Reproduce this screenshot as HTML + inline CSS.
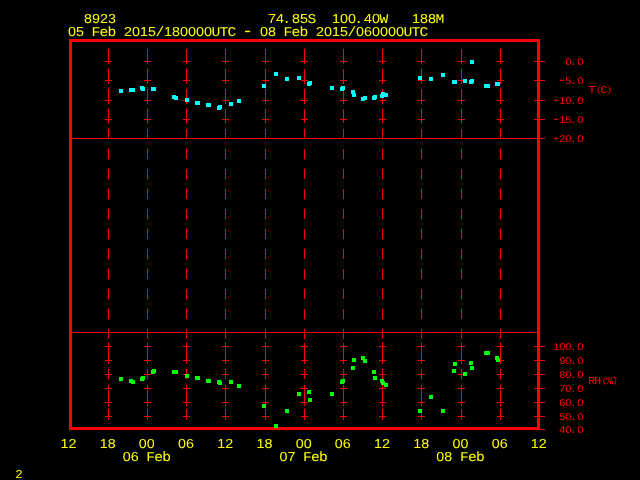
<!DOCTYPE html>
<html><head><meta charset="utf-8"><title>Meteogram 8923</title>
<style>
html,body{margin:0;padding:0;background:#000;}
body{width:640px;height:480px;position:relative;overflow:hidden;font-family:"Liberation Mono",monospace;}
svg{position:absolute;left:0;top:0;}
text{text-rendering:geometricPrecision;white-space:pre;font-family:"Liberation Mono",monospace;}
.d{font-family:"Liberation Sans",sans-serif;}
.b{fill:#ff0;font-size:13.333px;} .b .d{font-size:13px;} .b .h{font-size:17px;}
.m{fill:#ff0;font-size:11.667px;} .m .d{font-size:11.5px;}
.s{fill:#f00;font-size:10.5px;} .s .h{font-size:14px;} .s .p{font-size:8.5px;} .s .d{font-size:10px;}
</style></head><body>
<svg width="640" height="480" viewBox="0 0 640 480" shape-rendering="crispEdges">
<g fill="#f00">
<rect x="69" y="39" width="471" height="3"/>
<rect x="69" y="427" width="471" height="3"/>
<rect x="69" y="39" width="3" height="391"/>
<rect x="537" y="39" width="3" height="391"/>
<rect x="72" y="138" width="465" height="1"/>
<rect x="72" y="332" width="465" height="1"/>
<rect x="108" y="49" width="1" height="15"/>
<rect x="108" y="69" width="1" height="15"/>
<rect x="108" y="89" width="1" height="15"/>
<rect x="108" y="109" width="1" height="14"/>
<rect x="108" y="129" width="1" height="10"/>
<rect x="108" y="149" width="1" height="10"/>
<rect x="108" y="169" width="1" height="10"/>
<rect x="108" y="189" width="1" height="10"/>
<rect x="108" y="209" width="1" height="10"/>
<rect x="108" y="229" width="1" height="10"/>
<rect x="108" y="249" width="1" height="10"/>
<rect x="108" y="269" width="1" height="10"/>
<rect x="108" y="289" width="1" height="10"/>
<rect x="108" y="309" width="1" height="10"/>
<rect x="108" y="329" width="1" height="10"/>
<rect x="108" y="329" width="1" height="10"/>
<rect x="108" y="343" width="1" height="21"/>
<rect x="108" y="369" width="1" height="10"/>
<rect x="108" y="385" width="1" height="21"/>
<rect x="108" y="409" width="1" height="11"/>
<rect x="105" y="61" width="7" height="1"/>
<rect x="105" y="80" width="7" height="1"/>
<rect x="105" y="100" width="7" height="1"/>
<rect x="105" y="119" width="7" height="1"/>
<rect x="105" y="346" width="7" height="1"/>
<rect x="105" y="360" width="7" height="1"/>
<rect x="105" y="374" width="7" height="1"/>
<rect x="105" y="388" width="7" height="1"/>
<rect x="105" y="402" width="7" height="1"/>
<rect x="105" y="416" width="7" height="1"/>
<rect x="147" y="49" width="1" height="15"/>
<rect x="147" y="69" width="1" height="15"/>
<rect x="147" y="89" width="1" height="15"/>
<rect x="147" y="109" width="1" height="14"/>
<rect x="147" y="129" width="1" height="10"/>
<rect x="147" y="149" width="1" height="10"/>
<rect x="147" y="169" width="1" height="10"/>
<rect x="147" y="189" width="1" height="10"/>
<rect x="147" y="209" width="1" height="10"/>
<rect x="147" y="229" width="1" height="10"/>
<rect x="147" y="249" width="1" height="10"/>
<rect x="147" y="269" width="1" height="10"/>
<rect x="147" y="289" width="1" height="10"/>
<rect x="147" y="309" width="1" height="10"/>
<rect x="147" y="329" width="1" height="10"/>
<rect x="147" y="329" width="1" height="10"/>
<rect x="147" y="343" width="1" height="21"/>
<rect x="147" y="369" width="1" height="10"/>
<rect x="147" y="385" width="1" height="21"/>
<rect x="147" y="409" width="1" height="11"/>
<rect x="144" y="61" width="7" height="1"/>
<rect x="144" y="80" width="7" height="1"/>
<rect x="144" y="100" width="7" height="1"/>
<rect x="144" y="119" width="7" height="1"/>
<rect x="144" y="346" width="7" height="1"/>
<rect x="144" y="360" width="7" height="1"/>
<rect x="144" y="374" width="7" height="1"/>
<rect x="144" y="388" width="7" height="1"/>
<rect x="144" y="402" width="7" height="1"/>
<rect x="144" y="416" width="7" height="1"/>
<rect x="186" y="49" width="1" height="15"/>
<rect x="186" y="69" width="1" height="15"/>
<rect x="186" y="89" width="1" height="15"/>
<rect x="186" y="109" width="1" height="14"/>
<rect x="186" y="129" width="1" height="10"/>
<rect x="186" y="149" width="1" height="10"/>
<rect x="186" y="169" width="1" height="10"/>
<rect x="186" y="189" width="1" height="10"/>
<rect x="186" y="209" width="1" height="10"/>
<rect x="186" y="229" width="1" height="10"/>
<rect x="186" y="249" width="1" height="10"/>
<rect x="186" y="269" width="1" height="10"/>
<rect x="186" y="289" width="1" height="10"/>
<rect x="186" y="309" width="1" height="10"/>
<rect x="186" y="329" width="1" height="10"/>
<rect x="186" y="329" width="1" height="10"/>
<rect x="186" y="343" width="1" height="21"/>
<rect x="186" y="369" width="1" height="10"/>
<rect x="186" y="385" width="1" height="21"/>
<rect x="186" y="409" width="1" height="11"/>
<rect x="183" y="61" width="7" height="1"/>
<rect x="183" y="80" width="7" height="1"/>
<rect x="183" y="100" width="7" height="1"/>
<rect x="183" y="119" width="7" height="1"/>
<rect x="183" y="346" width="7" height="1"/>
<rect x="183" y="360" width="7" height="1"/>
<rect x="183" y="374" width="7" height="1"/>
<rect x="183" y="388" width="7" height="1"/>
<rect x="183" y="402" width="7" height="1"/>
<rect x="183" y="416" width="7" height="1"/>
<rect x="225" y="49" width="1" height="15"/>
<rect x="225" y="69" width="1" height="15"/>
<rect x="225" y="89" width="1" height="15"/>
<rect x="225" y="109" width="1" height="14"/>
<rect x="225" y="129" width="1" height="10"/>
<rect x="225" y="149" width="1" height="10"/>
<rect x="225" y="169" width="1" height="10"/>
<rect x="225" y="189" width="1" height="10"/>
<rect x="225" y="209" width="1" height="10"/>
<rect x="225" y="229" width="1" height="10"/>
<rect x="225" y="249" width="1" height="10"/>
<rect x="225" y="269" width="1" height="10"/>
<rect x="225" y="289" width="1" height="10"/>
<rect x="225" y="309" width="1" height="10"/>
<rect x="225" y="329" width="1" height="10"/>
<rect x="225" y="329" width="1" height="10"/>
<rect x="225" y="343" width="1" height="21"/>
<rect x="225" y="369" width="1" height="10"/>
<rect x="225" y="385" width="1" height="21"/>
<rect x="225" y="409" width="1" height="11"/>
<rect x="222" y="61" width="7" height="1"/>
<rect x="222" y="80" width="7" height="1"/>
<rect x="222" y="100" width="7" height="1"/>
<rect x="222" y="119" width="7" height="1"/>
<rect x="222" y="346" width="7" height="1"/>
<rect x="222" y="360" width="7" height="1"/>
<rect x="222" y="374" width="7" height="1"/>
<rect x="222" y="388" width="7" height="1"/>
<rect x="222" y="402" width="7" height="1"/>
<rect x="222" y="416" width="7" height="1"/>
<rect x="265" y="49" width="1" height="15"/>
<rect x="265" y="69" width="1" height="15"/>
<rect x="265" y="89" width="1" height="15"/>
<rect x="265" y="109" width="1" height="14"/>
<rect x="265" y="129" width="1" height="10"/>
<rect x="265" y="149" width="1" height="10"/>
<rect x="265" y="169" width="1" height="10"/>
<rect x="265" y="189" width="1" height="10"/>
<rect x="265" y="209" width="1" height="10"/>
<rect x="265" y="229" width="1" height="10"/>
<rect x="265" y="249" width="1" height="10"/>
<rect x="265" y="269" width="1" height="10"/>
<rect x="265" y="289" width="1" height="10"/>
<rect x="265" y="309" width="1" height="10"/>
<rect x="265" y="329" width="1" height="10"/>
<rect x="265" y="329" width="1" height="10"/>
<rect x="265" y="343" width="1" height="21"/>
<rect x="265" y="369" width="1" height="10"/>
<rect x="265" y="385" width="1" height="21"/>
<rect x="265" y="409" width="1" height="11"/>
<rect x="262" y="61" width="7" height="1"/>
<rect x="262" y="80" width="7" height="1"/>
<rect x="262" y="100" width="7" height="1"/>
<rect x="262" y="119" width="7" height="1"/>
<rect x="262" y="346" width="7" height="1"/>
<rect x="262" y="360" width="7" height="1"/>
<rect x="262" y="374" width="7" height="1"/>
<rect x="262" y="388" width="7" height="1"/>
<rect x="262" y="402" width="7" height="1"/>
<rect x="262" y="416" width="7" height="1"/>
<rect x="304" y="49" width="1" height="15"/>
<rect x="304" y="69" width="1" height="15"/>
<rect x="304" y="89" width="1" height="15"/>
<rect x="304" y="109" width="1" height="14"/>
<rect x="304" y="129" width="1" height="10"/>
<rect x="304" y="149" width="1" height="10"/>
<rect x="304" y="169" width="1" height="10"/>
<rect x="304" y="189" width="1" height="10"/>
<rect x="304" y="209" width="1" height="10"/>
<rect x="304" y="229" width="1" height="10"/>
<rect x="304" y="249" width="1" height="10"/>
<rect x="304" y="269" width="1" height="10"/>
<rect x="304" y="289" width="1" height="10"/>
<rect x="304" y="309" width="1" height="10"/>
<rect x="304" y="329" width="1" height="10"/>
<rect x="304" y="329" width="1" height="10"/>
<rect x="304" y="343" width="1" height="21"/>
<rect x="304" y="369" width="1" height="10"/>
<rect x="304" y="385" width="1" height="21"/>
<rect x="304" y="409" width="1" height="11"/>
<rect x="301" y="61" width="7" height="1"/>
<rect x="301" y="80" width="7" height="1"/>
<rect x="301" y="100" width="7" height="1"/>
<rect x="301" y="119" width="7" height="1"/>
<rect x="301" y="346" width="7" height="1"/>
<rect x="301" y="360" width="7" height="1"/>
<rect x="301" y="374" width="7" height="1"/>
<rect x="301" y="388" width="7" height="1"/>
<rect x="301" y="402" width="7" height="1"/>
<rect x="301" y="416" width="7" height="1"/>
<rect x="343" y="49" width="1" height="15"/>
<rect x="343" y="69" width="1" height="15"/>
<rect x="343" y="89" width="1" height="15"/>
<rect x="343" y="109" width="1" height="14"/>
<rect x="343" y="129" width="1" height="10"/>
<rect x="343" y="149" width="1" height="10"/>
<rect x="343" y="169" width="1" height="10"/>
<rect x="343" y="189" width="1" height="10"/>
<rect x="343" y="209" width="1" height="10"/>
<rect x="343" y="229" width="1" height="10"/>
<rect x="343" y="249" width="1" height="10"/>
<rect x="343" y="269" width="1" height="10"/>
<rect x="343" y="289" width="1" height="10"/>
<rect x="343" y="309" width="1" height="10"/>
<rect x="343" y="329" width="1" height="10"/>
<rect x="343" y="329" width="1" height="10"/>
<rect x="343" y="343" width="1" height="21"/>
<rect x="343" y="369" width="1" height="10"/>
<rect x="343" y="385" width="1" height="21"/>
<rect x="343" y="409" width="1" height="11"/>
<rect x="340" y="61" width="7" height="1"/>
<rect x="340" y="80" width="7" height="1"/>
<rect x="340" y="100" width="7" height="1"/>
<rect x="340" y="119" width="7" height="1"/>
<rect x="340" y="346" width="7" height="1"/>
<rect x="340" y="360" width="7" height="1"/>
<rect x="340" y="374" width="7" height="1"/>
<rect x="340" y="388" width="7" height="1"/>
<rect x="340" y="402" width="7" height="1"/>
<rect x="340" y="416" width="7" height="1"/>
<rect x="382" y="49" width="1" height="15"/>
<rect x="382" y="69" width="1" height="15"/>
<rect x="382" y="89" width="1" height="15"/>
<rect x="382" y="109" width="1" height="14"/>
<rect x="382" y="129" width="1" height="10"/>
<rect x="382" y="149" width="1" height="10"/>
<rect x="382" y="169" width="1" height="10"/>
<rect x="382" y="189" width="1" height="10"/>
<rect x="382" y="209" width="1" height="10"/>
<rect x="382" y="229" width="1" height="10"/>
<rect x="382" y="249" width="1" height="10"/>
<rect x="382" y="269" width="1" height="10"/>
<rect x="382" y="289" width="1" height="10"/>
<rect x="382" y="309" width="1" height="10"/>
<rect x="382" y="329" width="1" height="10"/>
<rect x="382" y="329" width="1" height="10"/>
<rect x="382" y="343" width="1" height="21"/>
<rect x="382" y="369" width="1" height="10"/>
<rect x="382" y="385" width="1" height="21"/>
<rect x="382" y="409" width="1" height="11"/>
<rect x="379" y="61" width="7" height="1"/>
<rect x="379" y="80" width="7" height="1"/>
<rect x="379" y="100" width="7" height="1"/>
<rect x="379" y="119" width="7" height="1"/>
<rect x="379" y="346" width="7" height="1"/>
<rect x="379" y="360" width="7" height="1"/>
<rect x="379" y="374" width="7" height="1"/>
<rect x="379" y="388" width="7" height="1"/>
<rect x="379" y="402" width="7" height="1"/>
<rect x="379" y="416" width="7" height="1"/>
<rect x="421" y="49" width="1" height="15"/>
<rect x="421" y="69" width="1" height="15"/>
<rect x="421" y="89" width="1" height="15"/>
<rect x="421" y="109" width="1" height="14"/>
<rect x="421" y="129" width="1" height="10"/>
<rect x="421" y="149" width="1" height="10"/>
<rect x="421" y="169" width="1" height="10"/>
<rect x="421" y="189" width="1" height="10"/>
<rect x="421" y="209" width="1" height="10"/>
<rect x="421" y="229" width="1" height="10"/>
<rect x="421" y="249" width="1" height="10"/>
<rect x="421" y="269" width="1" height="10"/>
<rect x="421" y="289" width="1" height="10"/>
<rect x="421" y="309" width="1" height="10"/>
<rect x="421" y="329" width="1" height="10"/>
<rect x="421" y="329" width="1" height="10"/>
<rect x="421" y="343" width="1" height="21"/>
<rect x="421" y="369" width="1" height="10"/>
<rect x="421" y="385" width="1" height="21"/>
<rect x="421" y="409" width="1" height="11"/>
<rect x="418" y="61" width="7" height="1"/>
<rect x="418" y="80" width="7" height="1"/>
<rect x="418" y="100" width="7" height="1"/>
<rect x="418" y="119" width="7" height="1"/>
<rect x="418" y="346" width="7" height="1"/>
<rect x="418" y="360" width="7" height="1"/>
<rect x="418" y="374" width="7" height="1"/>
<rect x="418" y="388" width="7" height="1"/>
<rect x="418" y="402" width="7" height="1"/>
<rect x="418" y="416" width="7" height="1"/>
<rect x="461" y="49" width="1" height="15"/>
<rect x="461" y="69" width="1" height="15"/>
<rect x="461" y="89" width="1" height="15"/>
<rect x="461" y="109" width="1" height="14"/>
<rect x="461" y="129" width="1" height="10"/>
<rect x="461" y="149" width="1" height="10"/>
<rect x="461" y="169" width="1" height="10"/>
<rect x="461" y="189" width="1" height="10"/>
<rect x="461" y="209" width="1" height="10"/>
<rect x="461" y="229" width="1" height="10"/>
<rect x="461" y="249" width="1" height="10"/>
<rect x="461" y="269" width="1" height="10"/>
<rect x="461" y="289" width="1" height="10"/>
<rect x="461" y="309" width="1" height="10"/>
<rect x="461" y="329" width="1" height="10"/>
<rect x="461" y="329" width="1" height="10"/>
<rect x="461" y="343" width="1" height="21"/>
<rect x="461" y="369" width="1" height="10"/>
<rect x="461" y="385" width="1" height="21"/>
<rect x="461" y="409" width="1" height="11"/>
<rect x="458" y="61" width="7" height="1"/>
<rect x="458" y="80" width="7" height="1"/>
<rect x="458" y="100" width="7" height="1"/>
<rect x="458" y="119" width="7" height="1"/>
<rect x="458" y="346" width="7" height="1"/>
<rect x="458" y="360" width="7" height="1"/>
<rect x="458" y="374" width="7" height="1"/>
<rect x="458" y="388" width="7" height="1"/>
<rect x="458" y="402" width="7" height="1"/>
<rect x="458" y="416" width="7" height="1"/>
<rect x="500" y="49" width="1" height="15"/>
<rect x="500" y="69" width="1" height="15"/>
<rect x="500" y="89" width="1" height="15"/>
<rect x="500" y="109" width="1" height="14"/>
<rect x="500" y="129" width="1" height="10"/>
<rect x="500" y="149" width="1" height="10"/>
<rect x="500" y="169" width="1" height="10"/>
<rect x="500" y="189" width="1" height="10"/>
<rect x="500" y="209" width="1" height="10"/>
<rect x="500" y="229" width="1" height="10"/>
<rect x="500" y="249" width="1" height="10"/>
<rect x="500" y="269" width="1" height="10"/>
<rect x="500" y="289" width="1" height="10"/>
<rect x="500" y="309" width="1" height="10"/>
<rect x="500" y="329" width="1" height="10"/>
<rect x="500" y="329" width="1" height="10"/>
<rect x="500" y="343" width="1" height="21"/>
<rect x="500" y="369" width="1" height="10"/>
<rect x="500" y="385" width="1" height="21"/>
<rect x="500" y="409" width="1" height="11"/>
<rect x="497" y="61" width="7" height="1"/>
<rect x="497" y="80" width="7" height="1"/>
<rect x="497" y="100" width="7" height="1"/>
<rect x="497" y="119" width="7" height="1"/>
<rect x="497" y="346" width="7" height="1"/>
<rect x="497" y="360" width="7" height="1"/>
<rect x="497" y="374" width="7" height="1"/>
<rect x="497" y="388" width="7" height="1"/>
<rect x="497" y="402" width="7" height="1"/>
<rect x="497" y="416" width="7" height="1"/>
<rect x="534" y="61" width="11" height="1"/>
<rect x="534" y="80" width="11" height="1"/>
<rect x="534" y="100" width="11" height="1"/>
<rect x="534" y="119" width="11" height="1"/>
<rect x="534" y="138" width="11" height="1"/>
<rect x="534" y="346" width="11" height="1"/>
<rect x="534" y="360" width="11" height="1"/>
<rect x="534" y="374" width="11" height="1"/>
<rect x="534" y="388" width="11" height="1"/>
<rect x="534" y="402" width="11" height="1"/>
<rect x="534" y="416" width="11" height="1"/>
<rect x="534" y="429" width="11" height="1"/>
</g>
<g fill="#0ff">
<rect x="119" y="89" width="4" height="4"/>
<rect x="129" y="88" width="6" height="4"/>
<rect x="140" y="86" width="4" height="4"/>
<rect x="141" y="87" width="4" height="4"/>
<rect x="151" y="87" width="5" height="4"/>
<rect x="172" y="95" width="4" height="4"/>
<rect x="174" y="96" width="4" height="4"/>
<rect x="185" y="98" width="4" height="4"/>
<rect x="195" y="101" width="5" height="4"/>
<rect x="206" y="103" width="5" height="4"/>
<rect x="218" y="105" width="4" height="4"/>
<rect x="217" y="106" width="4" height="4"/>
<rect x="229" y="102" width="4" height="4"/>
<rect x="237" y="99" width="4" height="4"/>
<rect x="262" y="84" width="4" height="4"/>
<rect x="274" y="72" width="4" height="4"/>
<rect x="285" y="77" width="4" height="4"/>
<rect x="297" y="76" width="4" height="4"/>
<rect x="308" y="81" width="4" height="4"/>
<rect x="307" y="82" width="4" height="4"/>
<rect x="330" y="86" width="4" height="4"/>
<rect x="341" y="86" width="4" height="4"/>
<rect x="340" y="87" width="4" height="4"/>
<rect x="351" y="90" width="4" height="4"/>
<rect x="352" y="93" width="4" height="4"/>
<rect x="363" y="96" width="4" height="4"/>
<rect x="361" y="97" width="4" height="4"/>
<rect x="373" y="95" width="4" height="4"/>
<rect x="372" y="96" width="4" height="4"/>
<rect x="381" y="92" width="4" height="4"/>
<rect x="380" y="94" width="4" height="4"/>
<rect x="384" y="93" width="4" height="4"/>
<rect x="418" y="76" width="4" height="4"/>
<rect x="429" y="77" width="4" height="4"/>
<rect x="441" y="73" width="4" height="4"/>
<rect x="452" y="80" width="5" height="4"/>
<rect x="463" y="79" width="4" height="4"/>
<rect x="470" y="79" width="4" height="4"/>
<rect x="469" y="80" width="4" height="4"/>
<rect x="470" y="60" width="4" height="4"/>
<rect x="484" y="84" width="6" height="4"/>
<rect x="495" y="82" width="5" height="4"/>
</g>
<g fill="#0f0">
<rect x="119" y="377" width="4" height="4"/>
<rect x="129" y="379" width="4" height="4"/>
<rect x="131" y="380" width="4" height="4"/>
<rect x="141" y="376" width="4" height="4"/>
<rect x="140" y="377" width="4" height="4"/>
<rect x="152" y="369" width="4" height="4"/>
<rect x="151" y="370" width="4" height="4"/>
<rect x="172" y="370" width="6" height="4"/>
<rect x="185" y="374" width="4" height="4"/>
<rect x="195" y="376" width="5" height="4"/>
<rect x="206" y="379" width="5" height="4"/>
<rect x="217" y="380" width="4" height="4"/>
<rect x="218" y="381" width="4" height="4"/>
<rect x="229" y="380" width="4" height="4"/>
<rect x="237" y="384" width="4" height="4"/>
<rect x="262" y="404" width="4" height="4"/>
<rect x="274" y="424" width="4" height="4"/>
<rect x="285" y="409" width="4" height="4"/>
<rect x="297" y="392" width="4" height="4"/>
<rect x="307" y="390" width="4" height="4"/>
<rect x="308" y="398" width="4" height="4"/>
<rect x="330" y="392" width="4" height="4"/>
<rect x="341" y="379" width="4" height="4"/>
<rect x="340" y="380" width="4" height="4"/>
<rect x="352" y="358" width="4" height="4"/>
<rect x="351" y="366" width="4" height="4"/>
<rect x="361" y="356" width="4" height="4"/>
<rect x="363" y="359" width="4" height="4"/>
<rect x="372" y="370" width="4" height="4"/>
<rect x="373" y="376" width="4" height="4"/>
<rect x="380" y="379" width="4" height="4"/>
<rect x="381" y="381" width="4" height="4"/>
<rect x="384" y="383" width="4" height="4"/>
<rect x="429" y="395" width="4" height="4"/>
<rect x="453" y="362" width="4" height="4"/>
<rect x="452" y="369" width="4" height="4"/>
<rect x="463" y="372" width="4" height="4"/>
<rect x="469" y="361" width="4" height="4"/>
<rect x="470" y="366" width="4" height="4"/>
<rect x="484" y="351" width="6" height="4"/>
<rect x="418" y="409" width="4" height="4"/>
<rect x="441" y="409" width="4" height="4"/>
<rect x="495" y="356" width="4" height="4"/>
<rect x="496" y="358" width="4" height="4"/>
</g>
<g text-anchor="middle" transform="scale(1.1,1)">
<text xml:space="preserve" class="s" x="516.73 521.23 527.64" y="65"><tspan class="d">0</tspan>.<tspan class="d">0</tspan></text>
<text xml:space="preserve" class="s" x="510.93 516.73 521.23 527.64" y="84"><tspan class="h">-</tspan><tspan class="d">5</tspan>.<tspan class="d">0</tspan></text>
<text xml:space="preserve" class="s" x="505.48 511.27 516.73 521.23 527.64" y="104"><tspan class="h">-</tspan><tspan class="d">10</tspan>.<tspan class="d">0</tspan></text>
<text xml:space="preserve" class="s" x="505.48 511.27 516.73 521.23 527.64" y="123"><tspan class="h">-</tspan><tspan class="d">15</tspan>.<tspan class="d">0</tspan></text>
<text xml:space="preserve" class="s" x="505.48 511.27 516.73 521.23 527.64" y="142"><tspan class="h">-</tspan><tspan class="d">20</tspan>.<tspan class="d">0</tspan></text>
<text xml:space="preserve" class="s" x="505.82 511.27 516.73 521.23 527.64" y="350"><tspan class="d">100</tspan>.<tspan class="d">0</tspan></text>
<text xml:space="preserve" class="s" x="511.27 516.73 521.23 527.64" y="364"><tspan class="d">90</tspan>.<tspan class="d">0</tspan></text>
<text xml:space="preserve" class="s" x="511.27 516.73 521.23 527.64" y="378"><tspan class="d">80</tspan>.<tspan class="d">0</tspan></text>
<text xml:space="preserve" class="s" x="511.27 516.73 521.23 527.64" y="392"><tspan class="d">70</tspan>.<tspan class="d">0</tspan></text>
<text xml:space="preserve" class="s" x="511.27 516.73 521.23 527.64" y="406"><tspan class="d">60</tspan>.<tspan class="d">0</tspan></text>
<text xml:space="preserve" class="s" x="511.27 516.73 521.23 527.64" y="420"><tspan class="d">50</tspan>.<tspan class="d">0</tspan></text>
<text xml:space="preserve" class="s" x="511.27 516.73 521.23 527.64" y="433"><tspan class="d">40</tspan>.<tspan class="d">0</tspan></text>
<text xml:space="preserve" class="s" x="538.18 544.32 549.09 553.86" y="93 92.0 93 92.0">T<tspan class="p">(</tspan>C<tspan class="p">)</tspan></text>
<text xml:space="preserve" class="s" x="537.91 543.36 549.50 554.27 559.05" y="384 384 383.0 384 383.0">RH<tspan class="p">(</tspan>%<tspan class="p">)</tspan></text>
<text xml:space="preserve" class="b" x="58.59 65.86" y="448"><tspan class="d">12</tspan></text>
<text xml:space="preserve" class="b" x="94.23 101.50" y="448"><tspan class="d">18</tspan></text>
<text xml:space="preserve" class="b" x="129.86 137.14" y="448"><tspan class="d">00</tspan></text>
<text xml:space="preserve" class="b" x="165.50 172.77" y="448"><tspan class="d">06</tspan></text>
<text xml:space="preserve" class="b" x="201.14 208.41" y="448"><tspan class="d">12</tspan></text>
<text xml:space="preserve" class="b" x="236.77 244.05" y="448"><tspan class="d">18</tspan></text>
<text xml:space="preserve" class="b" x="272.41 279.68" y="448"><tspan class="d">00</tspan></text>
<text xml:space="preserve" class="b" x="308.05 315.32" y="448"><tspan class="d">06</tspan></text>
<text xml:space="preserve" class="b" x="343.68 350.95" y="448"><tspan class="d">12</tspan></text>
<text xml:space="preserve" class="b" x="379.32 386.59" y="448"><tspan class="d">18</tspan></text>
<text xml:space="preserve" class="b" x="414.95 422.23" y="448"><tspan class="d">00</tspan></text>
<text xml:space="preserve" class="b" x="450.59 457.86" y="448"><tspan class="d">06</tspan></text>
<text xml:space="preserve" class="b" x="486.23 493.50" y="448"><tspan class="d">12</tspan></text>
<text xml:space="preserve" class="b" x="115.18 122.45 129.73 137.00 144.27 151.55" y="461"><tspan class="d">06</tspan> Feb</text>
<text xml:space="preserve" class="b" x="257.73 265.00 272.27 279.55 286.82 294.09" y="461"><tspan class="d">07</tspan> Feb</text>
<text xml:space="preserve" class="b" x="400.27 407.55 414.82 422.09 429.36 436.64" y="461"><tspan class="d">08</tspan> Feb</text>
<text xml:space="preserve" class="b" x="65.45 72.73 80.00 87.27 94.55 101.82 109.09 116.36 123.64 130.91 138.18 145.45 152.73 160.00 167.27 174.55 181.82 189.09 196.36 203.64 210.91 218.18 225.45 232.73 240.00 247.27 254.55 260.55 269.09 276.36 283.64 290.91 298.18 305.45 312.73 320.00 326.00 334.55 341.82 349.09 356.36 363.64 370.91 378.18 385.45 392.73 400.00" y="23">  <tspan class="d">8923</tspan>                   <tspan class="d">74</tspan>.<tspan class="d">85</tspan>S  <tspan class="d">100</tspan>.<tspan class="d">40</tspan>W   <tspan class="d">188</tspan>M</text>
<text xml:space="preserve" class="b" x="65.45 72.73 80.00 87.27 94.55 101.82 109.09 116.36 123.64 130.91 138.18 145.45 152.73 160.00 167.27 174.55 181.82 189.09 196.36 203.64 210.91 218.18 225.00 232.73 240.00 247.27 254.55 261.82 269.09 276.36 283.64 290.91 298.18 305.45 312.73 320.00 327.27 334.55 341.82 349.09 356.36 363.64 370.91 378.18 385.45" y="36"><tspan class="d">05</tspan> Feb <tspan class="d">2015</tspan>/<tspan class="d">180000</tspan>UTC <tspan class="h">-</tspan> <tspan class="d">08</tspan> Feb <tspan class="d">2015</tspan>/<tspan class="d">060000</tspan>UTC</text>
<text xml:space="preserve" class="m" x="17.27" y="478"><tspan class="d">2</tspan></text>
</g>
</svg>
</body></html>
